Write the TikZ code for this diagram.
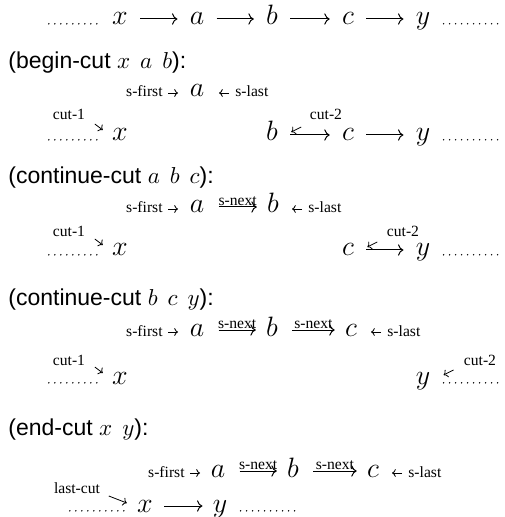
\RequirePackage{fix-cm}
\documentclass[tikz,border=0pt]{standalone}
\usepackage{fontspec}
\usetikzlibrary{arrows.meta}
\newfontfamily\labfont{Liberation Serif}
\newfontfamily\headfont{Liberation Sans}
\tikzset{
  m/.style={inner sep=0pt, anchor=base, font=\fontsize{14}{16}\selectfont, text height=6pt, text depth=0pt},
  lab/.style={inner sep=0pt, anchor=base, font=\labfont\fontsize{7.8}{9}\selectfont},
  hd/.style={inner sep=0pt, anchor=base west, font=\headfont\fontsize{11.5}{13}\selectfont},
  arr/.style={line width=0.5pt, -{Computer Modern Rightarrow}},
  sarr/.style={line width=0.4pt, -{Computer Modern Rightarrow[scale=0.75]}},
  carr/.style={line width=0.4pt, -{Computer Modern Rightarrow[scale=0.8]}},
  dotline/.style={line width=0.8pt, line cap=round, dash pattern=on 0pt off 3pt},
}
\newcommand\gapp{\hspace{5pt}}
\begin{document}
\begin{tikzpicture}[x=0.5pt,y=-0.5pt]
\useasboundingbox (0,0) rectangle (504,517);
% ---------- row 0 ----------
\node[m] (x0) at (120,25) {$x$};
\node[m] (a0) at (197,25) {$a$};
\node[m] (b0) at (272,25) {$b$};
\node[m] (c0) at (348,25) {$c$};
\node[m] (y0) at (423,25) {$y$};
\draw[arr] ([xshift=6pt]x0.east) -- ([xshift=-6pt]a0.west);
\draw[arr] ([xshift=6pt]a0.east) -- ([xshift=-6pt]b0.west);
\draw[arr] ([xshift=6pt]b0.east) -- ([xshift=-6pt]c0.west);
\draw[arr] ([xshift=6pt]c0.east) -- ([xshift=-6pt]y0.west);
\draw[dotline] ([xshift=-7.5pt,yshift=0.6pt]x0.base west) -- ++(-25pt,0);
\draw[dotline] ([xshift=6.5pt,yshift=0.6pt]y0.base east) -- ++(28.5pt,0);
% ---------- section 1 ----------
\node[hd] (h1) at (8,69) {(begin-cut $x$\gapp$a$\gapp$b$):};
\node[lab, anchor=base east] (sf1) at (163,97) {s-first};
\node[m] (a1) at (197,97) {$a$};
\node[lab, anchor=base west] (sl1) at (235,97) {s-last};
\draw[sarr] ([xshift=2.5pt,yshift=2pt]sf1.base east) -- ++(5pt,0);
\draw[sarr] ([xshift=-3pt,yshift=2pt]sl1.base west) -- ++(-5pt,0);
\node[lab] (cl1) at (69,120) {cut-1};
\node[m] (x1) at (120,141) {$x$};
\draw[dotline] ([xshift=-7.5pt,yshift=0.6pt]x1.base west) -- ++(-25pt,0);
\draw[carr] ([shift={(-8.5pt,8.5pt)}]x1.base west) -- ([shift={(-4.5pt,5.5pt)}]x1.base west);
\node[m] (b1) at (272,141) {$b$};
\node[m] (c1) at (348,141) {$c$};
\node[m] (y1) at (423,141) {$y$};
\draw[arr] ([xshift=6pt]b1.east) -- ([xshift=-6pt]c1.west);
\draw[arr] ([xshift=6pt]c1.east) -- ([xshift=-6pt]y1.west);
\draw[dotline] ([xshift=6.5pt,yshift=0.6pt]y1.base east) -- ++(28.5pt,0);
\node[lab] (cl2) at (326,120) {cut-2};
\draw[carr] ([shift={(11.5pt,7pt)}]b1.base east) -- ([shift={(6.5pt,4.5pt)}]b1.base east);
% ---------- section 2 ----------
\node[hd] (h2) at (8,184) {(continue-cut $a$\gapp$b$\gapp$c$):};
\node[lab, anchor=base east] (sf2) at (163,213) {s-first};
\node[m] (a2) at (197,213) {$a$};
\node[m] (b2) at (273,213) {$b$};
\node[lab, anchor=base west] (sl2) at (308,213) {s-last};
\draw[sarr] ([xshift=2.5pt,yshift=2pt]sf2.base east) -- ++(5pt,0);
\draw[arr] ([xshift=7pt]a2.east) -- node[lab, above=0.6pt] {s-next} ([xshift=-5pt]b2.west);
\draw[sarr] ([xshift=-3pt,yshift=2pt]sl2.base west) -- ++(-5pt,0);
\node[lab] (cl3) at (69,237) {cut-1};
\node[m] (x2) at (120,256) {$x$};
\draw[dotline] ([xshift=-7.5pt,yshift=0.6pt]x2.base west) -- ++(-25pt,0);
\draw[carr] ([shift={(-8.5pt,8.5pt)}]x2.base west) -- ([shift={(-4.5pt,5.5pt)}]x2.base west);
\node[m] (c2) at (348,256) {$c$};
\node[m] (y2) at (423,256) {$y$};
\draw[arr] ([xshift=6pt]c2.east) -- ([xshift=-6pt]y2.west);
\draw[dotline] ([xshift=6.5pt,yshift=0.6pt]y2.base east) -- ++(28.5pt,0);
\node[lab] (cl4) at (403,237) {cut-2};
\draw[carr] ([shift={(11.5pt,7pt)}]c2.base east) -- ([shift={(6.5pt,4.5pt)}]c2.base east);
% ---------- section 3 ----------
\node[hd] (h3) at (8,305) {(continue-cut $b$\gapp$c$\gapp$y$):};
\node[lab, anchor=base east] (sf3) at (163,336) {s-first};
\node[m] (a3) at (197,336) {$a$};
\node[m] (b3) at (272,336) {$b$};
\node[m] (c3) at (351,336) {$c$};
\node[lab, anchor=base west] (sl3) at (387,336) {s-last};
\draw[sarr] ([xshift=2.5pt,yshift=2pt]sf3.base east) -- ++(5pt,0);
\draw[arr] ([xshift=7pt]a3.east) -- node[lab, above=0.6pt] {s-next} ([xshift=-5pt]b3.west);
\draw[arr] ([xshift=7pt]b3.east) -- node[lab, above=0.6pt] {s-next} ([xshift=-5pt]c3.west);
\draw[sarr] ([xshift=-3pt,yshift=2pt]sl3.base west) -- ++(-5pt,0);
\node[lab] (cl5) at (69,365) {cut-1};
\node[m] (x3) at (120,384) {$x$};
\draw[dotline] ([xshift=-7.5pt,yshift=0.6pt]x3.base west) -- ++(-25pt,0);
\draw[carr] ([shift={(-8.5pt,8.5pt)}]x3.base west) -- ([shift={(-4.5pt,5.5pt)}]x3.base west);
\node[m] (y3) at (423,384) {$y$};
\draw[dotline] ([xshift=6.5pt,yshift=0.6pt]y3.base east) -- ++(28.5pt,0);
\node[lab] (cl6) at (480,365) {cut-2};
\draw[carr] ([shift={(11.5pt,7pt)}]y3.base east) -- ([shift={(6.5pt,4.5pt)}]y3.base east);
% ---------- section 4 ----------
\node[hd] (h4) at (8,435) {(end-cut $x$\gapp$y$):};
\node[lab, anchor=base east] (sf4) at (185,477) {s-first};
\node[m] (a4) at (218,477) {$a$};
\node[m] (b4) at (293,477) {$b$};
\node[m] (c4) at (373,477) {$c$};
\node[lab, anchor=base west] (sl4) at (408,477) {s-last};
\draw[sarr] ([xshift=2.5pt,yshift=2pt]sf4.base east) -- ++(5pt,0);
\draw[arr] ([xshift=7pt]a4.east) -- node[lab, above=0.6pt] {s-next} ([xshift=-5pt]b4.west);
\draw[arr] ([xshift=7pt]b4.east) -- node[lab, above=0.6pt] {s-next} ([xshift=-5pt]c4.west);
\draw[sarr] ([xshift=-3pt,yshift=2pt]sl4.base west) -- ++(-5pt,0);
\node[lab] (lc) at (77,493) {last-cut};
\node[m] (x4) at (145,512) {$x$};
\node[m] (y4) at (220,512) {$y$};
\draw[arr] ([xshift=5.5pt]x4.east) -- ([xshift=-5pt]y4.west);
\draw[dotline] ([xshift=-6.5pt,yshift=0.6pt]x4.base west) -- ++(-28.5pt,0);
\draw[dotline] ([xshift=6.5pt,yshift=0.6pt]y4.base east) -- ++(28.5pt,0);
\draw[carr] ([shift={(-14pt,8pt)}]x4.base west) -- ([shift={(-5pt,4.5pt)}]x4.base west);
\end{tikzpicture}
\end{document}
